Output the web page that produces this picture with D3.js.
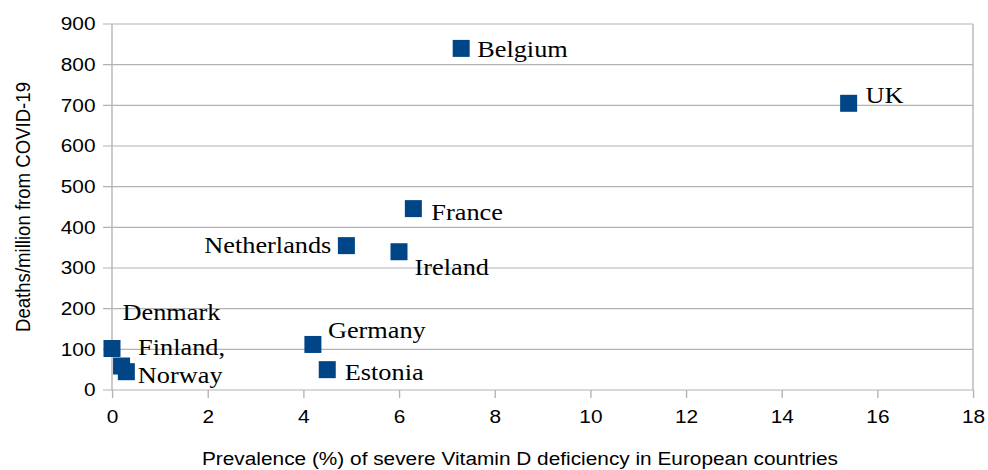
<!DOCTYPE html>
<html>
<head>
<meta charset="utf-8">
<script src="https://cdn.jsdelivr.net/npm/d3@7"></script>
<style>
  body { margin: 0; background: #fff; }
  text { fill: #000; }
</style>
</head>
<body>
<div id="chart"></div>
<script>
// data
var countries = ["Belgium", "UK", "France", "Netherlands", "Ireland", "Germany", "Estonia", "Denmark", "Finland,", "Norway"];
var prevalence = [7.3, 15.4, 6.3, 4.9, 6.0, 4.2, 4.5, 0, 0.2, 0.3];
var deaths = [840, 705, 446, 355, 340, 112, 50, 102, 59, 45];
var xTicks = [0, 2, 4, 6, 8, 10, 12, 14, 16, 18];
var yTicks = [0, 100, 200, 300, 400, 500, 600, 700, 800, 900];
var xTitle = "Prevalence (%) of severe Vitamin D deficiency in European countries";
var yTitle = "Deaths/million from COVID-19";

// label placement next to each marker (screen px: dx, dy, anchor)
var labelPos = {
  "Belgium": [16, 9, "start"],
  "UK": [17, 0, "start"],
  "France": [18, 11.5, "start"],
  "Netherlands": [-15, 7.5, "end"],
  "Ireland": [15.5, 23, "start"],
  "Germany": [15, -6.5, "start"],
  "Estonia": [17.5, 10.5, "start"],
  "Denmark": [10.5, -28.5, "start"],
  "Finland,": [16.5, -11, "start"],
  "Norway": [11.5, 11.5, "start"]
};

var data = countries.map(function(c, i) {
  return {name: c, x: prevalence[i], y: deaths[i]};
});

// the original picture is a little wider than tall, stretch everything sideways
var stretch = 1.12;
var W = 988, H = 470;
var margin = {top: 24, right: 15, bottom: 80, left: 112};
function px(v) { return v / stretch; }

var svg = d3.select("#chart").append("svg")
  .attr("width", W)
  .attr("height", H)
  .attr("viewBox", "0 0 " + px(W) + " " + H)
  .attr("preserveAspectRatio", "none")
  .style("display", "block");

var x = d3.scaleLinear().domain([0, 18]).range([px(margin.left), px(W - margin.right)]);
var y = d3.scaleLinear().domain([0, 900]).range([H - margin.bottom, margin.top]);

var gridColor = "#b3b3b3";

// horizontal gridlines (stick out a bit to the left like ticks)
svg.append("g").selectAll("line")
  .data(yTicks)
  .enter().append("line")
  .attr("x1", x(0) - px(9))
  .attr("x2", x(18))
  .attr("y1", function(d) { return y(d); })
  .attr("y2", function(d) { return y(d); })
  .attr("stroke", gridColor)
  .attr("stroke-width", 1.2);

// left and right frame lines
svg.append("g").selectAll("line")
  .data([0, 18])
  .enter().append("line")
  .attr("x1", function(d) { return x(d); })
  .attr("x2", function(d) { return x(d); })
  .attr("y1", y(900))
  .attr("y2", y(0))
  .attr("stroke", gridColor)
  .attr("stroke-width", 1.2);

// y axis labels
var yAxis = d3.axisLeft(y).tickValues(yTicks).tickSize(0).tickPadding(px(16.5));
var yAxisG = svg.append("g")
  .attr("transform", "translate(" + x(0) + ",0)")
  .call(yAxis);
yAxisG.select(".domain").remove();
yAxisG.selectAll("text")
  .style("font-family", "'Liberation Sans', Arial, sans-serif")
  .style("font-size", "18.6px")
  .style("fill", "#000");

// x axis with small ticks below
var xAxis = d3.axisBottom(x).tickValues(xTicks).tickSize(8).tickPadding(12);
var xAxisG = svg.append("g")
  .attr("transform", "translate(0," + y(0) + ")")
  .call(xAxis);
xAxisG.select(".domain").remove();
xAxisG.selectAll("line").attr("stroke", gridColor).attr("stroke-width", 1.2);
xAxisG.selectAll("text")
  .style("font-family", "'Liberation Sans', Arial, sans-serif")
  .style("font-size", "18.6px")
  .style("fill", "#000");

// axis titles
svg.append("text")
  .attr("x", px(520))
  .attr("y", 465)
  .attr("text-anchor", "middle")
  .style("font-family", "'Liberation Sans', Arial, sans-serif")
  .style("font-size", "18.6px")
  .text(xTitle);

svg.append("text")
  .attr("transform", "translate(" + px(30) + "," + ((margin.top + H - margin.bottom) / 2) + ") rotate(-90)")
  .attr("text-anchor", "middle")
  .style("font-family", "'Liberation Sans', Arial, sans-serif")
  .style("font-size", "18.6px")
  .text(yTitle);

// markers
var size = 17;
svg.append("g").selectAll("rect")
  .data(data)
  .enter().append("rect")
  .attr("x", function(d) { return x(d.x) - px(size / 2); })
  .attr("y", function(d) { return y(d.y) - size / 2; })
  .attr("width", px(size))
  .attr("height", size)
  .attr("fill", "#004586");

// country labels
svg.append("g").selectAll("text")
  .data(data)
  .enter().append("text")
  .attr("x", function(d) { return x(d.x) + px(labelPos[d.name][0]); })
  .attr("y", function(d) { return y(d.y) + labelPos[d.name][1]; })
  .attr("text-anchor", function(d) { return labelPos[d.name][2]; })
  .style("font-family", "'Liberation Serif', 'Times New Roman', serif")
  .style("font-size", "23.5px")
  .text(function(d) { return d.name; });
</script>
</body>
</html>
